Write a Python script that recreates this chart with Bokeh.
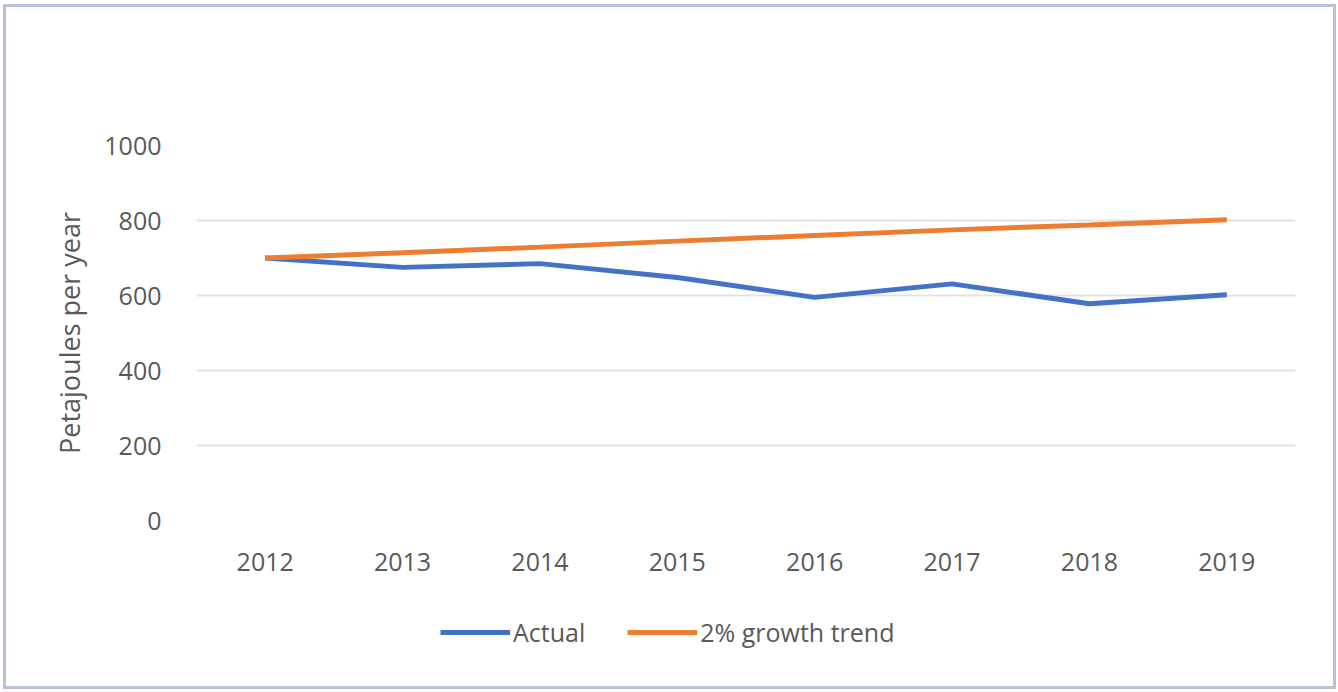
from bokeh.plotting import figure
from bokeh.layouts import column
from bokeh.models import FactorRange, Range1d, Legend, LegendItem, FixedTicker, ColumnDataSource
from bokeh.embed import file_html
from bokeh.resources import INLINE

years = ["2012", "2013", "2014", "2015", "2016", "2017", "2018", "2019"]
actual = [700, 675, 685, 648, 595, 631, 578, 602]
trend = [700, 714, 729, 745, 760, 775, 788, 802]
y_ticks = [0, 200, 400, 600, 800, 1000]
series_names = ["Actual", "2% growth trend"]

FONT = "Open Sans"
TXT = "#595959"
BLUE = "#4472C4"
ORANGE = "#ED7D31"

src = ColumnDataSource(dict(x=years, a=actual, t=trend))

p = figure(x_range=FactorRange(*years, range_padding=0), y_range=Range1d(0, 1000),
           width=1327, height=593, output_backend="svg", toolbar_location=None,
           min_border_left=190, min_border_right=38, min_border_top=138, min_border_bottom=80)
p.outline_line_color = None
p.background_fill_color = "white"
p.border_fill_color = "white"

p.line("x", "a", source=src, line_color=BLUE, line_width=5)
p.line("x", "t", source=src, line_color=ORANGE, line_width=5)

p.xgrid.grid_line_color = None
p.ygrid.grid_line_color = "#e2e2e2"
p.ygrid.grid_line_width = 2
p.yaxis.ticker = FixedTicker(ticks=y_ticks)

for ax in (p.xaxis[0], p.yaxis[0]):
    ax.axis_line_color = None
    ax.major_tick_line_color = None
    ax.minor_tick_line_color = None
    ax.major_label_text_font = FONT
    ax.major_label_text_font_size = "25px"
    ax.major_label_text_color = TXT
p.yaxis.major_label_standoff = 29
p.xaxis.major_label_standoff = 26
p.yaxis.axis_label = "Petajoules per year"
p.yaxis.axis_label_text_font = FONT
p.yaxis.axis_label_text_font_size = "27px"
p.yaxis.axis_label_text_font_style = "normal"
p.yaxis.axis_label_text_color = TXT
p.yaxis.axis_label_standoff = 13

# legend strip: same series, drawn outside its visible range so only the legend shows
q = figure(x_range=p.x_range, y_range=Range1d(2000, 3000), width=1327, height=86,
           output_backend="svg", toolbar_location=None,
           x_axis_location=None, y_axis_location=None,
           min_border_left=190, min_border_right=38, min_border_top=0, min_border_bottom=0)
q.outline_line_color = None
q.grid.visible = False
q.background_fill_color = "white"
q.border_fill_color = "white"
l1 = q.line("x", "a", source=src, line_color=BLUE, line_width=5)
l2 = q.line("x", "t", source=src, line_color=ORANGE, line_width=5)
legend = Legend(items=[LegendItem(label=series_names[0], renderers=[l1]),
                       LegendItem(label=series_names[1], renderers=[l2])],
                orientation="horizontal", location=(244, 37),
                glyph_width=70, glyph_height=24, label_height=24, label_standoff=3, spacing=42,
                label_text_font=FONT, label_text_font_size="25px", label_text_color=TXT,
                border_line_color=None, background_fill_alpha=0, margin=0, padding=0)
q.add_layout(legend, "center")

layout = column(p, q, spacing=0,
                styles={"border": "3px solid #b4c2df", "margin-left": "3px", "margin-top": "4px"})

open("out.html", "w").write(file_html(layout, INLINE))
